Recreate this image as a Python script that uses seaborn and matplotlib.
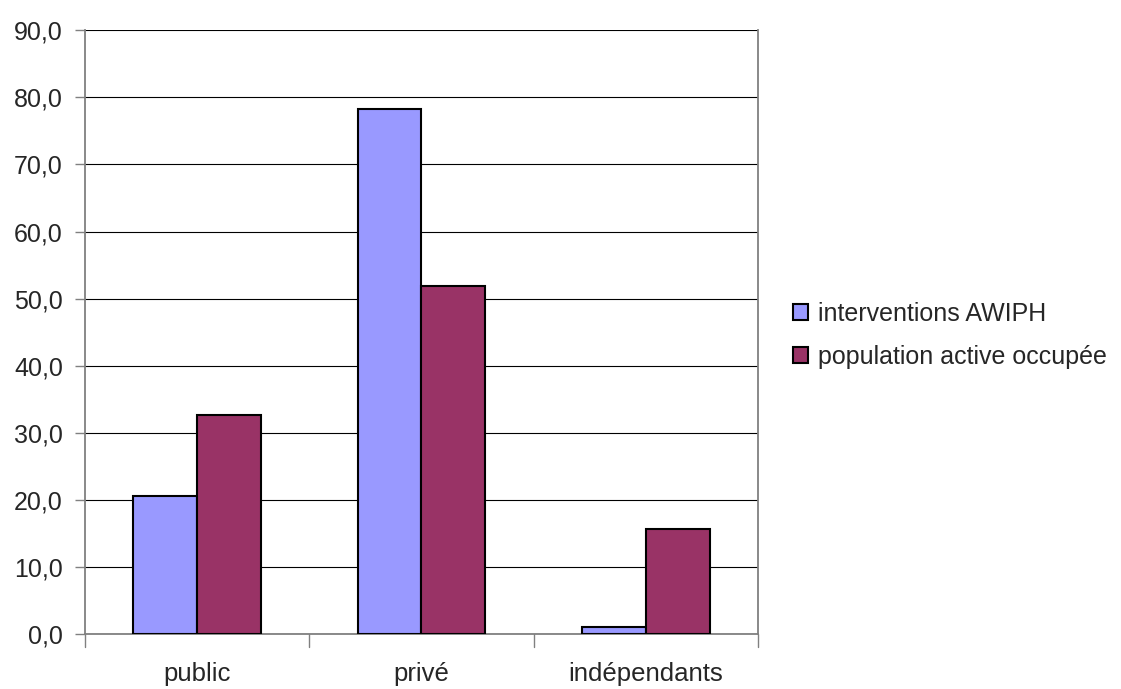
import matplotlib
matplotlib.use("Agg")
import matplotlib.pyplot as plt
import numpy as np
import pandas as pd
import seaborn as sns
from matplotlib.patches import Patch

categories = ["public", "privé", "indépendants"]
series_names = ["interventions AWIPH", "population active occupée"]
awiph = [20.5, 78.3, 1.0]
population = [32.7, 51.9, 15.6]
colors = ["#9999FF", "#993366"]

df = pd.DataFrame(
    {
        "categorie": categories * 2,
        "serie": [series_names[0]] * 3 + [series_names[1]] * 3,
        "valeur": awiph + population,
    }
)

sns.set_style("white")
plt.rcParams["font.family"] = ["Liberation Sans", "DejaVu Sans"]

fig = plt.figure(figsize=(11.21, 6.89), dpi=100)
ax = fig.add_axes([0.076, 0.080, 0.600, 0.876])

sns.barplot(
    data=df,
    x="categorie",
    y="valeur",
    hue="serie",
    order=categories,
    hue_order=series_names,
    palette=colors,
    width=0.57,
    edgecolor="black",
    linewidth=1.5,
    saturation=1,
    legend=False,
    ax=ax,
    zorder=3,
)

ax.set_ylim(0, 90)
ax.set_xlim(-0.5, 2.5)
ax.set_yticks(np.arange(0, 91, 10))
ax.set_yticklabels([f"{v:.1f}".replace(".", ",") for v in np.arange(0, 91, 10)], fontsize=18)
ax.yaxis.grid(True, color="black", linewidth=0.8, zorder=0)
ax.set_axisbelow(True)

ax.set_xticks([0, 1, 2])
ax.set_xticklabels(categories, fontsize=18.5)
ax.tick_params(axis="x", length=0, pad=20)
ax.tick_params(axis="y", length=7, width=1, color="#808080", left=True, direction="out", pad=9)
for b in [-0.5, 0.5, 1.5, 2.5]:
    ax.plot([b, b], [0, -2], color="#808080", linewidth=1, clip_on=False)

ax.set_xlabel("")
ax.set_ylabel("")
for side in ["left", "bottom", "right"]:
    ax.spines[side].set_color("#808080")
    ax.spines[side].set_linewidth(1.3)
ax.spines["top"].set_visible(False)

handles = [Patch(facecolor=c, edgecolor="black", linewidth=1.5) for c in colors]
fig.legend(
    handles,
    series_names,
    loc="center left",
    bbox_to_anchor=(0.687, 0.513),
    frameon=False,
    fontsize=18,
    handlelength=0.6,
    handleheight=0.6,
    handletextpad=0.4,
    labelspacing=0.75,
)

fig.savefig("out.png", dpi=100)
